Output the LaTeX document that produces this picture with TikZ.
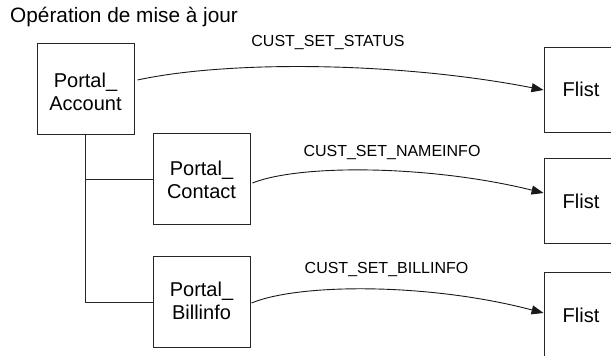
\documentclass[tikz,border=0pt]{standalone}
\usepackage{fontspec}
\setmainfont{Liberation Sans}
\usetikzlibrary{arrows.meta}
% two centred lines, drawn #1 lower than their box
\newcommand{\stacktext}[3]{\raisebox{-#1}[\height][\depth]{\begin{tabular}{@{}c@{}}#2\\#3\end{tabular}}}
\tikzset{
  portalbox/.style={draw=black!85, line width=0.9pt, rectangle, inner sep=0pt,
    minimum width=97pt, minimum height=91pt, align=center,
    font=\fontsize{20}{23}\selectfont},
  flistbox/.style={draw=black!85, line width=0.9pt, rectangle, inner sep=0pt,
    minimum width=74pt, minimum height=85pt,
    font=\fontsize{20}{23}\selectfont},
  call/.style={line width=0.9pt, black!90, -{Triangle[length=12pt,width=9pt]}},
  calllabel/.style={font=\fontsize{16}{18}\selectfont, inner sep=0pt},
  tree/.style={line width=0.8pt, black!85},
}
\begin{document}
\begin{tikzpicture}[x=1pt,y=-1pt]
  \useasboundingbox (0,0) rectangle (611,356);
  \clip (0,0) rectangle (611,356);

  \node[anchor=base west, inner sep=0pt, font=\fontsize{20.8}{24}\selectfont] (title) at (10,22) {Opération de mise à jour};

  % source objects
  \node[portalbox] (acct) at (85.5,88.5) {\stacktext{6pt}{Portal\_}{Account}};
  \node[portalbox] (cont) at (201.5,179) {\stacktext{3pt}{Portal\_}{Contact}};
  \node[portalbox] (bill) at (201.5,302) {\stacktext{1pt}{Portal\_}{Billinfo}};

  % target flists
  \node[flistbox] (f1) at (581,89.5) {Flist};
  \node[flistbox] (f2) at (581,201) {Flist};
  \node[flistbox] (f3) at (581,315) {Flist};

  % hierarchy lines
  \coordinate (trunk) at (acct.south);
  \draw[tree] (trunk) |- (cont.west);
  \draw[tree] (trunk) |- (bill.west);

  % opcode calls
  \draw[call] ([xshift=3pt,yshift=8.5pt]acct.east) .. controls (230,60) and (400,62) .. ([yshift=-0.5pt]f1.west);
  \draw[call] ([xshift=2pt,yshift=-4pt]cont.east) .. controls (300,164) and (430,165) .. ([yshift=8pt]f2.west);
  \draw[call] ([xshift=1pt,yshift=-1pt]bill.east) .. controls (300,283) and (430,283) .. ([yshift=2pt]f3.west);

  % opcode names
  \node[calllabel] (l1) at (328,42.5) {CUST\_SET\_STATUS};
  \node[calllabel] (l2) at (392,153) {CUST\_SET\_NAMEINFO};
  \node[calllabel] (l3) at (386.5,269.5) {CUST\_SET\_BILLINFO};
\end{tikzpicture}
\end{document}
